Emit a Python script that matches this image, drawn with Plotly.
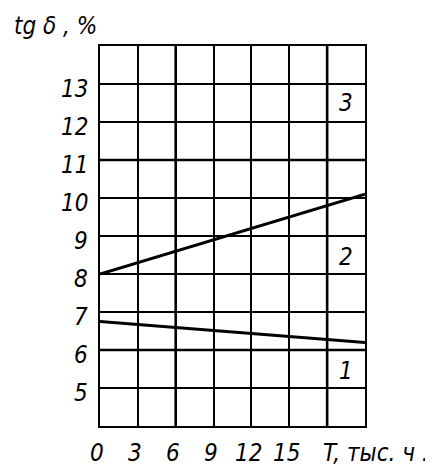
import plotly.graph_objects as go

# Data
hours = [0, 21]                      # T, thousand hours
series1 = [6.75, 6.2]                # curve 1
series2 = [8.0, 10.1]                # curve 2
x_ticks = [0, 3, 6, 9, 12, 15]
x_tick_labels = ["0", "3", "6", "9", "12", "15"]
y_ticks = [5, 6, 7, 8, 9, 10, 11, 12, 13]
y_tick_labels = ["5", "6", "7", "8", "9", "10", "11", "12", "13"]
thick_h = [6, 11]
thick_v = [6, 18]
curve_labels = ["1", "2", "3"]
curve_label_x = [19.5, 19.5, 19.5]
curve_label_y = [5.45, 8.45, 12.5]

FONT = "DejaVu Sans Condensed, Liberation Sans Narrow, Liberation Sans, sans-serif"
fnt = dict(family=FONT, size=24, color="black", style="italic")

fig = go.Figure()
fig.add_trace(go.Scatter(x=hours, y=series1, mode="lines",
                         line=dict(color="black", width=3), showlegend=False))
fig.add_trace(go.Scatter(x=hours, y=series2, mode="lines",
                         line=dict(color="black", width=3), showlegend=False))

for v in thick_h:
    fig.add_shape(type="line", xref="x", yref="y", x0=0, x1=21, y0=v, y1=v,
                  line=dict(color="black", width=2.6), layer="below")
for v in thick_v:
    fig.add_shape(type="line", xref="x", yref="y", x0=v, x1=v, y0=4, y1=14,
                  line=dict(color="black", width=2.6), layer="below")

fig.update_xaxes(range=[0, 21], dtick=3, tick0=0, showgrid=True,
                 gridcolor="black", gridwidth=1.6, showticklabels=False,
                 zeroline=False, showline=True, linecolor="black", linewidth=2.4,
                 mirror=True, ticks="")
fig.update_yaxes(range=[4, 14], dtick=1, tick0=4, showgrid=True,
                 gridcolor="black", gridwidth=1.6, showticklabels=False,
                 zeroline=False, showline=True, linecolor="black", linewidth=2.4,
                 mirror=True, ticks="")

for xv, lab in zip(x_ticks, x_tick_labels):
    fig.add_annotation(x=xv, y=0, xref="x", yref="paper", text=lab,
                       showarrow=False, font=fnt, yanchor="middle",
                       yshift=-27, xshift=-3)
fig.add_annotation(x=18, y=0, xref="x", yref="paper", text="T, тыс. ч .",
                   showarrow=False, font=fnt, xanchor="left", yanchor="middle",
                   yshift=-27, xshift=-6)
for yv, lab in zip(y_ticks, y_tick_labels):
    fig.add_annotation(x=0, y=yv, xref="paper", yref="y", text=lab,
                       showarrow=False, font=fnt, xanchor="right",
                       yanchor="middle", xshift=-10, yshift=-5)
for xv, yv, lab in zip(curve_label_x, curve_label_y, curve_labels):
    fig.add_annotation(x=xv, y=yv, xref="x", yref="y", text=lab,
                       showarrow=False, font=fnt)
fig.add_annotation(x=0, y=1, xref="paper", yref="paper", text="tg δ , %",
                   showarrow=False, font=fnt, xanchor="left", yanchor="middle",
                   xshift=-88, yshift=20)

fig.update_layout(width=425, height=458, margin=dict(l=92, r=68, t=38, b=40),
                  plot_bgcolor="white", paper_bgcolor="white")
fig.write_html("out.html")
